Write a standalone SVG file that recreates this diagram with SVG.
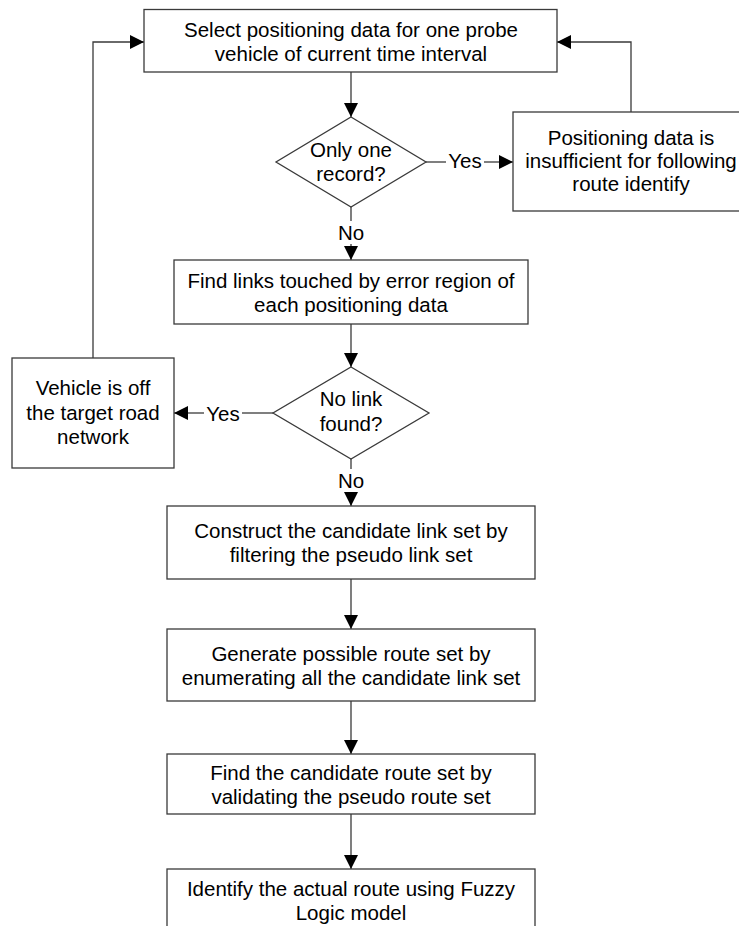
<svg xmlns="http://www.w3.org/2000/svg" width="739" height="926" viewBox="0 0 739 926">
<defs>
<marker id="arr" markerWidth="14" markerHeight="14" viewBox="0 0 14 14" refX="14" refY="7" orient="auto" markerUnits="userSpaceOnUse">
<path d="M0,0 L14,7 L0,14 Z" fill="#000"/>
</marker>
<style>
.box{fill:#fff;stroke:#3a3a3a;stroke-width:1.3}
.ln{fill:none;stroke:#3a3a3a;stroke-width:1.3}
.t{font-family:"Liberation Sans",Arial,sans-serif;font-size:20.5px;fill:#000;text-anchor:middle}
</style>
</defs>
<rect width="739" height="926" fill="#fff"/>
<g id="connectors">
<path class="ln" d="M351,72 V117" marker-end="url(#arr)"/>
<path class="ln" d="M426,162 H446"/>
<path class="ln" d="M484,162 H513" marker-end="url(#arr)"/>
<path class="ln" d="M631,112 V42 H557" marker-end="url(#arr)"/>
<path class="ln" d="M351,207 V221"/>
<path class="ln" d="M351,244 V260" marker-end="url(#arr)"/>
<path class="ln" d="M351,324 V367" marker-end="url(#arr)"/>
<path class="ln" d="M273,413 H242"/>
<path class="ln" d="M204,413 H174" marker-end="url(#arr)"/>
<path class="ln" d="M93,358 V42 H144" marker-end="url(#arr)"/>
<path class="ln" d="M351,459 V469"/>
<path class="ln" d="M351,492 V506" marker-end="url(#arr)"/>
<path class="ln" d="M351,579 V629" marker-end="url(#arr)"/>
<path class="ln" d="M351,701 V754" marker-end="url(#arr)"/>
<path class="ln" d="M351,814 V869" marker-end="url(#arr)"/>
<text class="t" x="465" y="168">Yes</text>
<text class="t" x="351" y="240">No</text>
<text class="t" x="223" y="421">Yes</text>
<text class="t" x="351" y="488">No</text>
</g>
<g id="select">
<rect class="box" x="144" y="9.5" width="413" height="62.5"/>
<text class="t" x="351" y="36.5">Select positioning data for one probe</text>
<text class="t" x="351" y="60.5">vehicle of current time interval</text>
</g>
<g id="only-one">
<polygon class="box" points="351,117 426,162 351,207 276,162"/>
<text class="t" x="351" y="157">Only one</text>
<text class="t" x="351" y="181">record?</text>
</g>
<g id="insufficient">
<rect class="box" x="513" y="112" width="250" height="99"/>
<text class="t" x="631" y="144.5">Positioning data is</text>
<text class="t" x="631" y="168">insufficient for following</text>
<text class="t" x="631" y="191">route identify</text>
</g>
<g id="find-links">
<rect class="box" x="174" y="260" width="354" height="64"/>
<text class="t" x="351" y="287.5">Find links touched by error region of</text>
<text class="t" x="351" y="311.5">each positioning data</text>
</g>
<g id="no-link">
<polygon class="box" points="351,367 429,413 351,459 273,413"/>
<text class="t" x="351" y="405.5">No link</text>
<text class="t" x="351" y="430.5">found?</text>
</g>
<g id="off-network">
<rect class="box" x="12" y="358" width="162" height="110"/>
<text class="t" x="93" y="394.5">Vehicle is off</text>
<text class="t" x="93" y="419.5">the target road</text>
<text class="t" x="93" y="443.5">network</text>
</g>
<g id="construct">
<rect class="box" x="167" y="506" width="368" height="73"/>
<text class="t" x="351" y="537.5">Construct the candidate link set by</text>
<text class="t" x="351" y="561.5">filtering the pseudo link set</text>
</g>
<g id="generate">
<rect class="box" x="167" y="629" width="368" height="72"/>
<text class="t" x="351" y="660.5">Generate possible route set by</text>
<text class="t" x="351" y="684.5">enumerating all the candidate link set</text>
</g>
<g id="find-route">
<rect class="box" x="167" y="754" width="368" height="60"/>
<text class="t" x="351" y="779.5">Find the candidate route set by</text>
<text class="t" x="351" y="804">validating the pseudo route set</text>
</g>
<g id="identify">
<rect class="box" x="167" y="869" width="368" height="70"/>
<text class="t" x="351" y="895.5">Identify the actual route using Fuzzy</text>
<text class="t" x="351" y="920">Logic model</text>
</g>
</svg>
